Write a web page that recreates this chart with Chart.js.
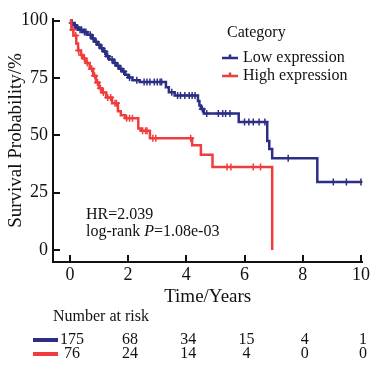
<!DOCTYPE html>
<html lang="en">
<head>
  <meta charset="UTF-8">
  <title>Survival curve</title>
  <script src="https://cdn.jsdelivr.net/npm/chart.js"></script>
  <style>
    body { margin: 0; background: #fff; }
    #wrap { width: 372px; height: 365px; position: relative; }
  </style>
</head>
<body>
  <div id="wrap"><canvas id="myChart"></canvas></div>

  <script>
    // Kaplan-Meier step points (time in years, survival in %)
    var lowTime = [0, 0.05, 0.12, 0.2, 0.3, 0.45, 0.6, 0.75, 0.85, 0.95, 1.05, 1.15, 1.25, 1.35, 1.5, 1.6, 1.7, 1.8, 1.9, 2.0, 2.15, 2.4, 3.3, 3.4, 3.6, 4.4, 4.45, 4.5, 4.6, 5.8, 6.78, 6.85, 6.95, 8.5, 10.05];
    var lowSurv = [100, 99, 98, 97, 96, 95, 93.8, 92.2, 90.8, 89.5, 88, 86.5, 84.5, 83, 81.5, 80.3, 79, 77.8, 76.4, 75.2, 74, 73.2, 71, 68.8, 67.4, 65, 63, 61.5, 59.5, 55.8, 47.5, 44, 40, 29.7, 29.7];

    var highTime = [0, 0.05, 0.12, 0.22, 0.28, 0.38, 0.45, 0.55, 0.68, 0.8, 0.9, 1.0, 1.1, 1.25, 1.45, 1.65, 1.75, 1.9, 2.35, 2.45, 2.75, 4.2, 4.5, 4.9, 6.95];
    var highSurv = [100, 96, 93.5, 90, 87, 85, 83.5, 81.5, 79, 76, 73, 70.5, 68.7, 66.5, 64, 60.5, 58.7, 57.4, 53, 52, 48.7, 45.7, 41.5, 36.2, 0];

    // censored observations (+ marks)
    var lowCensor = [0.08, 0.18, 0.25, 0.35, 0.4, 0.5, 0.55, 0.7, 0.8, 0.9, 1.0, 1.1, 1.2, 1.3, 1.45, 1.55, 1.65, 1.75, 1.85, 2.05, 2.3, 2.55, 2.65, 2.75, 2.9, 3.0, 3.1, 3.15, 3.5, 3.7, 3.8, 3.95, 4.1, 4.2, 4.3, 4.55, 4.7, 5.1, 5.25, 5.35, 5.5, 6.0, 6.15, 6.3, 6.5, 6.7, 7.5, 9.05, 9.5, 10.0];
    var highCensor = [0.1, 0.2, 0.3, 0.4, 0.5, 0.6, 0.75, 0.85, 0.95, 1.05, 1.15, 1.3, 1.4, 1.55, 1.6, 1.95, 2.05, 2.15, 2.5, 2.6, 2.65, 2.85, 2.95, 4.15, 5.4, 5.53, 6.3, 6.55];

    // number at risk table
    var riskTimes = [0, 2, 4, 6, 8, 10];
    var lowRisk = [175, 68, 34, 15, 4, 1];
    var highRisk = [76, 24, 14, 4, 0, 0];

    var xTicks = [0, 2, 4, 6, 8, 10];
    var yTicks = [0, 25, 50, 75, 100];

    var groupNames = ['Low expression', 'High expression'];
    var blue = '#2b2e83';
    var red = '#f03c3c';
    var serif = "'Liberation Serif', 'DejaVu Serif', serif";

    function survAt(times, surv, t) {
      var v = surv[0];
      for (var i = 0; i < times.length; i++) {
        if (times[i] <= t) v = surv[i];
      }
      return v;
    }

    function steps(times, surv) {
      return times.map(function (t, i) { return { x: t, y: surv[i] }; });
    }

    function marks(cens, times, surv) {
      return cens.map(function (t) { return { x: t, y: survAt(times, surv, t) }; });
    }

    // inward tick marks, legend, annotations and risk table
    var extras = {
      id: 'extras',
      afterDraw: function (chart) {
        var ctx = chart.ctx;
        var xs = chart.scales.x, ys = chart.scales.y;
        var area = chart.chartArea;
        ctx.save();
        ctx.strokeStyle = '#111';
        ctx.lineWidth = 2;
        xTicks.forEach(function (v) {
          var px = Math.round(xs.getPixelForValue(v));
          ctx.beginPath();
          ctx.moveTo(px, area.bottom);
          ctx.lineTo(px, area.bottom - 7);
          ctx.stroke();
        });
        yTicks.forEach(function (v) {
          var py = Math.round(ys.getPixelForValue(v));
          ctx.beginPath();
          ctx.moveTo(area.left, py);
          ctx.lineTo(area.left + 7, py);
          ctx.stroke();
        });

        ctx.fillStyle = '#111';
        ctx.textBaseline = 'middle';
        ctx.font = '16px ' + serif;

        // legend
        ctx.textAlign = 'left';
        ctx.fillText('Category', 227, 33);
        [blue, red].forEach(function (c, i) {
          var y = 58 + i * 18;
          ctx.strokeStyle = c;
          ctx.lineWidth = 2.5;
          ctx.beginPath();
          ctx.moveTo(222, y);
          ctx.lineTo(238, y);
          ctx.moveTo(230, y - 3.5);
          ctx.lineTo(230, y);
          ctx.stroke();
          ctx.fillStyle = '#111';
          ctx.fillText(groupNames[i], 243, y);
        });

        // statistics
        ctx.fillText('HR=2.039', 86, 215);
        var s1 = 'log-rank ';
        ctx.fillText(s1, 86, 232);
        var w1 = ctx.measureText(s1).width;
        ctx.font = 'italic 16px ' + serif;
        ctx.fillText('P', 86 + w1, 232);
        var w2 = ctx.measureText('P').width;
        ctx.font = '16px ' + serif;
        ctx.fillText('=1.08e-03', 86 + w1 + w2, 232);

        // number at risk
        ctx.fillText('Number at risk', 53, 317);
        [[lowRisk, blue, 340], [highRisk, red, 354]].forEach(function (row) {
          ctx.fillStyle = row[1];
          ctx.fillRect(33, row[2] - 2, 25, 4);
          ctx.fillStyle = '#111';
          ctx.textAlign = 'center';
          row[0].forEach(function (n, i) {
            ctx.fillText(String(n), xs.getPixelForValue(riskTimes[i]) + 2, row[2]);
          });
          ctx.textAlign = 'left';
        });
        ctx.restore();
      }
    };

    var ctx = document.getElementById('myChart').getContext('2d');
    var myChart = new Chart(ctx, {
      type: 'line',
      data: {
        datasets: [
          {
            label: groupNames[0], data: steps(lowTime, lowSurv), borderColor: blue,
            borderWidth: 2.5, pointRadius: 0, stepped: 'before', fill: false, order: 2
          },
          {
            label: groupNames[1], data: steps(highTime, highSurv), borderColor: red,
            borderWidth: 2.5, pointRadius: 0, stepped: 'before', fill: false, order: 1
          },
          {
            label: 'low censored', data: marks(lowCensor, lowTime, lowSurv), showLine: false,
            pointStyle: 'cross', pointRadius: 3.5, pointBorderWidth: 1.5, borderColor: blue, order: 2
          },
          {
            label: 'high censored', data: marks(highCensor, highTime, highSurv), showLine: false,
            pointStyle: 'cross', pointRadius: 3.5, pointBorderWidth: 1.5, borderColor: red, order: 1
          }
        ]
      },
      options: {
        animation: false,
        responsive: true,
        maintainAspectRatio: false,
        layout: { padding: { left: 0, top: 19, right: 8, bottom: 57 } },
        plugins: { legend: { display: false }, tooltip: { enabled: false } },
        scales: {
          x: {
            type: 'linear', min: -0.58, max: 10.05,
            afterBuildTicks: function (s) { s.ticks = xTicks.map(function (v) { return { value: v }; }); },
            afterFit: function (s) { s.height = 46; },
            grid: { drawOnChartArea: false, drawTicks: false },
            border: { color: '#111', width: 2 },
            ticks: { color: '#111', padding: 2, font: { family: serif, size: 18 }, callback: function (v) { return v; } },
            title: { display: true, text: 'Time/Years', color: '#111', padding: 0, font: { family: serif, size: 19, weight: 'normal' } }
          },
          y: {
            type: 'linear', min: -5.2, max: 100.7,
            afterBuildTicks: function (s) { s.ticks = yTicks.map(function (v) { return { value: v }; }); },
            afterFit: function (s) { s.width = 53; },
            grid: { drawOnChartArea: false, drawTicks: false },
            border: { color: '#111', width: 2 },
            ticks: { color: '#111', padding: 5, font: { family: serif, size: 18 }, callback: function (v) { return v; } },
            title: { display: true, text: 'Survival Probability/%', color: '#111', padding: { top: 5, bottom: 0 }, font: { family: serif, size: 19, weight: 'normal' } }
          }
        }
      },
      plugins: [extras]
    });
  </script>
</body>
</html>
